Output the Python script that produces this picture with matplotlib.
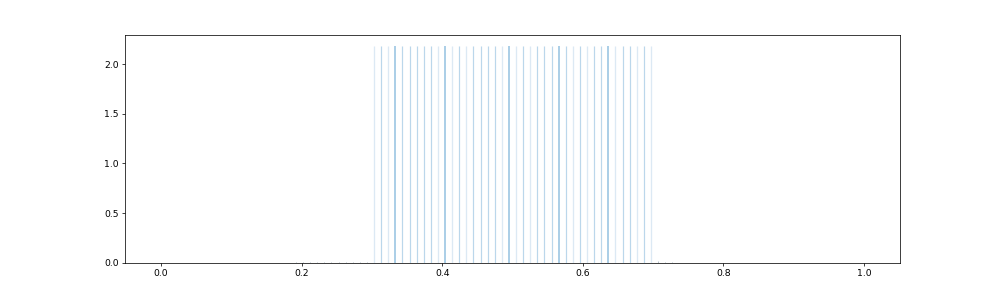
import matplotlib
matplotlib.use("Agg")
import matplotlib.pyplot as plt

# Main tall spikes (positions on the x axis) and their heights
spike_x = [0.3030, 0.3131, 0.3232, 0.3333, 0.3434, 0.3535, 0.3636, 0.3737, 0.3838, 0.3939,
           0.4040, 0.4141, 0.4242, 0.4343, 0.4444, 0.4545, 0.4646, 0.4747, 0.4848, 0.4949,
           0.5051, 0.5152, 0.5253, 0.5354, 0.5455, 0.5556, 0.5657, 0.5758, 0.5859, 0.5960,
           0.6061, 0.6162, 0.6263, 0.6364, 0.6465, 0.6566, 0.6667, 0.6768, 0.6869, 0.6970]
spike_h = [2.19] * 40
# Visual strength of each spike: L = light, M = medium, D = dark
spike_tone = ['L', 'M', 'L', 'D', 'M', 'M', 'M', 'M', 'M', 'L',
              'D', 'L', 'M', 'L', 'M', 'M', 'M', 'M', 'L', 'D',
              'L', 'M', 'L', 'M', 'M', 'M', 'D', 'M', 'L', 'M',
              'L', 'M', 'M', 'D', 'L', 'M', 'M', 'L', 'M', 'L']

# Tiny marks along the baseline
small_x = [0.1919, 0.2020, 0.2121, 0.2222, 0.2323, 0.2424, 0.2525, 0.2626, 0.2727, 0.2828,
           0.2929, 0.7071, 0.7172, 0.7273]
small_h = [0.006, 0.006, 0.006, 0.006, 0.006, 0.006, 0.006, 0.006, 0.006, 0.006,
           0.006, 0.012, 0.006, 0.006]

tone_color = {'L': '#dce9f4', 'M': '#bbd7eb', 'D': '#9cc6e3'}
tone_width = {'L': 1.4, 'M': 1.3, 'D': 1.8}

DPI = 200 / 3
fig = plt.figure(figsize=(15, 4.425), dpi=DPI)
ax = fig.add_subplot(111)

for x, h, t in zip(spike_x, spike_h, spike_tone):
    ax.vlines(x, 0, h, colors=tone_color[t], linewidth=tone_width[t])

ax.vlines(small_x, 0, small_h, colors='#a9b8c4', linewidth=0.9)

ax.set_xlim(-0.0512, 1.0512)
ax.set_ylim(0, 2.293)
ax.set_xticks([0.0, 0.2, 0.4, 0.6, 0.8, 1.0])
ax.set_yticks([0.0, 0.5, 1.0, 1.5, 2.0])

fig.savefig("out.png", dpi=DPI)
